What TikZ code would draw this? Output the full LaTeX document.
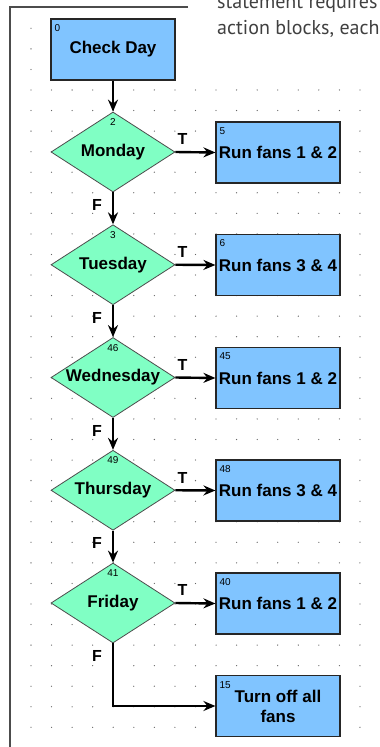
\documentclass[tikz,border=0pt]{standalone}
\usepackage{fontspec}
\usepackage{xcolor}
\usepackage{tikz}
\usetikzlibrary{
	arrows.meta,
	shapes.geometric,
	positioning
}
\newfontfamily\chartfont{Liberation Sans}
\newfontfamily\notefont{PT Sans}
\definecolor{boxblue}{RGB}{128,196,255}
\definecolor{condgreen}{RGB}{128,255,196}

\begin{document}
\begin{tikzpicture}[x=1pt, y=-1pt,
		act/.style={draw=black!85, line width=1.2pt, fill=boxblue, minimum width=124pt, minimum height=61pt, inner sep=0pt, align=center, font=\chartfont\bfseries\fontsize{17}{20}\selectfont},
		cond/.style={diamond, draw=black!70, line width=0.8pt, fill=condgreen, minimum width=124pt, minimum height=80pt, inner sep=0pt, font=\chartfont\bfseries\fontsize{17}{20}\selectfont,
			execute at begin node={\hbox to 0pt\bgroup\hss}, execute at end node={\hss\egroup}},
		num/.style={inner sep=0pt, font=\chartfont\fontsize{10}{12}\selectfont},
		tf/.style={inner sep=0pt, font=\chartfont\bfseries\fontsize{16}{19}\selectfont},
		note/.style={inner sep=0pt, text=black!75, font=\notefont\fontsize{20}{26}\selectfont},
		flow/.style={line width=2.4pt, -{Stealth[length=12pt, width=10pt, inset=4pt]}}]
		\useasboundingbox (0,0) rectangle (380,747);
		\clip (0,0) rectangle (380,747);
		\fill[white] (0,0) rectangle (380,747);
		% 网格点
		\foreach \i in {0,...,16}
			\foreach \j in {3,...,35}
				\fill[black!60] (31+20.56*\i, 28.3+20.56*\j) circle (0.65);
		\foreach \i in {0,...,7}
			\foreach \j in {0,1,2}
				\fill[black!60] (31+20.56*\i, 28.3+20.56*\j) circle (0.65);
		% 窗口边框与说明文字
		\draw[black!70, line width=1.3pt] (188,7) -- (10,7) -- (10,760);
		\node[note, anchor=base west] (note1) at (217,8) {statement requires};
		\node[note, anchor=base west] (note2) at (217,34) {action blocks, each};
		% 判断
		\node[act] (check) at (113,49.5) {Check Day};
		\node[cond] (mon) at (113,152) {Monday};
		\node[cond] (tue) at (113,264.75) {Tuesday};
		\node[cond] (wed) at (113,377.5) {Wednesday};
		\node[cond] (thu) at (113,490.25) {Thursday};
		\node[cond] (fri) at (113,603) {Friday};
		% 动作
		\node[act] (run5) at (278,152.5) {Run fans 1 \& 2};
		\node[act] (run6) at (278,265) {Run fans 3 \& 4};
		\node[act] (run45) at (278,378) {Run fans 1 \& 2};
		\node[act] (run48) at (278,490.5) {Run fans 3 \& 4};
		\node[act] (run40) at (278,603.5) {Run fans 1 \& 2};
		\node[act] (off) at (278,706) {Turn off all\\fans};
		% 编号
		\node[num, anchor=base west] (n0) at ([shift={(4,13)}]check.north west) {0};
		\node[num, anchor=base] (n2) at ([shift={(0,14)}]mon.north) {2};
		\node[num, anchor=base] (n3) at ([shift={(0,14)}]tue.north) {3};
		\node[num, anchor=base] (n46) at ([shift={(0,14)}]wed.north) {46};
		\node[num, anchor=base] (n49) at ([shift={(0,14)}]thu.north) {49};
		\node[num, anchor=base] (n41) at ([shift={(0,14)}]fri.north) {41};
		\node[num, anchor=base west] (n5) at ([shift={(4,13)}]run5.north west) {5};
		\node[num, anchor=base west] (n6) at ([shift={(4,13)}]run6.north west) {6};
		\node[num, anchor=base west] (n45) at ([shift={(4,13)}]run45.north west) {45};
		\node[num, anchor=base west] (n48) at ([shift={(4,13)}]run48.north west) {48};
		\node[num, anchor=base west] (n40) at ([shift={(4,13)}]run40.north west) {40};
		\node[num, anchor=base west] (n15) at ([shift={(4,14)}]off.north west) {15};
		% 连线
		\draw[flow] (check.south) -- (mon.north);
		\draw[flow] (mon.east) -- (run5.west) node[tf, pos=0, anchor=south west, xshift=1pt, yshift=6pt] (t1) {T};
		\draw[flow] (tue.east) -- (run6.west) node[tf, pos=0, anchor=south west, xshift=1pt, yshift=6pt] (t2) {T};
		\draw[flow] (wed.east) -- (run45.west) node[tf, pos=0, anchor=south west, xshift=1pt, yshift=6pt] (t3) {T};
		\draw[flow] (thu.east) -- (run48.west) node[tf, pos=0, anchor=south west, xshift=1pt, yshift=6pt] (t4) {T};
		\draw[flow] (fri.east) -- (run40.west) node[tf, pos=0, anchor=south west, xshift=1pt, yshift=6pt] (t5) {T};
		\draw[flow] (mon.south) -- (tue.north) node[tf, pos=0, anchor=north east, xshift=-10pt, yshift=-6pt] (f1) {F};
		\draw[flow] (tue.south) -- (wed.north) node[tf, pos=0, anchor=north east, xshift=-10pt, yshift=-6pt] (f2) {F};
		\draw[flow] (wed.south) -- (thu.north) node[tf, pos=0, anchor=north east, xshift=-10pt, yshift=-6pt] (f3) {F};
		\draw[flow] (thu.south) -- (fri.north) node[tf, pos=0, anchor=north east, xshift=-10pt, yshift=-6pt] (f4) {F};
		\draw[flow] (fri.south) |- (off.west) node[tf, pos=0, anchor=north east, xshift=-10pt, yshift=-6pt] (f5) {F};
	\end{tikzpicture}
\end{document}
